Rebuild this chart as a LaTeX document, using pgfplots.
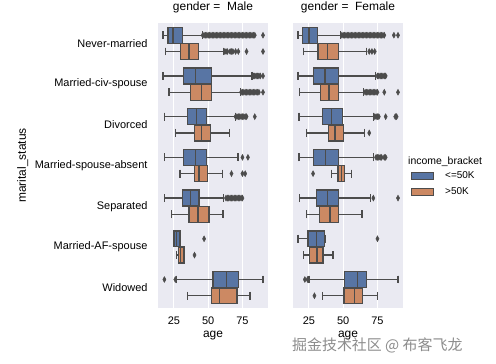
\documentclass[border=0pt]{standalone}
\usepackage{pgfplots}
\pgfplotsset{compat=1.18}
\usepgfplotslibrary{statistics}
\usepackage{fontspec}
\setmainfont{Liberation Sans}
\newfontfamily\cjk{Noto Sans CJK SC}
\definecolor{bgc}{HTML}{EAEAF2}
\definecolor{cblue}{HTML}{5875A4}
\definecolor{corange}{HTML}{CC8963}
\definecolor{edge}{HTML}{4C4C4C}

% pos, lower whisker, lower quartile, median, upper quartile, upper whisker, fill
\newcommand{\bx}[7]{%
\addplot[draw=edge, fill=#7, line width=1.3bp,
  boxplot/every whisker/.style={draw=edge, line width=1.3bp},
  boxplot/every median/.style={draw=edge, line width=1.3bp},
  boxplot/every box/.style={draw=edge, fill=#7, line width=1.3bp},
  boxplot prepared={draw position=#1, lower whisker=#2, lower quartile=#3,
  median=#4, upper quartile=#5, upper whisker=#6, box extend=0.39, whisker extend=0.196}]
  coordinates {};}

\pgfplotsset{
  facet/.style={
    scale only axis, width=110bp, height=285bp,
    anchor=south west,
    xmin=13.35, xmax=93.65, ymin=-0.5, ymax=6.5, y dir=reverse,
    axis background/.style={fill=bgc},
    axis line style={draw=none},
    major tick length=0pt,
    xtick={25,50,75}, ytick={0,...,6},
    xmajorgrids, ymajorgrids=false,
    grid style={white, line width=1bp},
    boxplot/draw direction=x,
    /pgf/number format/assume math mode=true,
    tick label style={font=\fontsize{11}{13}\selectfont},
    xticklabel style={yshift=-5bp},
    yticklabel style={xshift=-7bp},
    xlabel={age},
    xlabel style={font=\fontsize{12}{14}\selectfont, at={(axis description cs:0.5,-0.098)}, anchor=center},
    title style={font=\fontsize{12}{14}\selectfont, at={(axis description cs:0.5,1.035)}, anchor=center},
    fl/.style={only marks, mark=diamond*, mark size=2.9bp, mark options={xscale=0.72, draw=edge, fill=edge, line width=0.5bp}},
  }
}

\begin{document}
\begin{tikzpicture}
\useasboundingbox (0,0) rectangle (496bp,364bp);

% ---------------- Male ----------------
\begin{axis}[facet, at={(158bp,56bp)},
  title={gender =\ \ Male},
  yticklabels={Never-married,Married-civ-spouse,Divorced,Married-spouse-absent,Separated,Married-AF-spouse,Widowed},
  ylabel={marital\_status},
  ylabel style={font=\fontsize{12}{14}\selectfont, at={(axis description cs:-1.23,0.5)}, anchor=center, rotate=0},
]
% Never-married
\bx{-0.2}{17}{20.6}{24.3}{31.3}{45.6}{cblue}
\bx{0.2}{19}{30}{36}{43}{61.4}{corange}
% Married-civ-spouse
\bx{0.8}{17}{31.8}{40.8}{52.2}{82}{cblue}
\bx{1.2}{21.4}{37.1}{44.9}{52.2}{73.5}{corange}
% Divorced
\bx{1.8}{18.2}{34.7}{41.5}{48.8}{69.9}{cblue}
\bx{2.2}{26.2}{40}{45.1}{51.7}{65.8}{corange}
% Married-spouse-absent
\bx{2.8}{18.2}{31.8}{40.8}{48.8}{71.8}{cblue}
\bx{3.2}{29.4}{40}{43.2}{49.3}{60.2}{corange}
% Separated
\bx{3.8}{18.2}{31}{37.1}{43.2}{61.4}{cblue}
\bx{4.2}{23.3}{35.9}{42.5}{50.5}{60.9}{corange}
% Married-AF-spouse
\bx{4.8}{25}{25}{27}{29.4}{29.4}{cblue}
\bx{5.2}{27}{28.2}{30}{32.3}{32.3}{corange}
% Widowed
\bx{5.8}{27}{53.6}{63.3}{72.3}{90}{cblue}
\bx{6.2}{34.7}{52.2}{58}{71.1}{80.6}{corange}

\addplot[fl] coordinates {
 (46,-0.2) (47,-0.2) (48,-0.2) (49,-0.2) (50,-0.2) (51,-0.2) (52,-0.2) (53,-0.2) (54,-0.2) (55,-0.2)
 (56,-0.2) (57,-0.2) (58,-0.2) (59,-0.2) (60,-0.2) (61,-0.2) (62,-0.2) (63,-0.2) (64,-0.2) (65,-0.2)
 (66,-0.2) (67,-0.2) (68,-0.2) (69,-0.2) (70,-0.2) (71,-0.2) (72,-0.2) (73,-0.2) (74,-0.2) (75,-0.2)
 (76,-0.2) (77,-0.2) (78,-0.2) (79,-0.2) (80,-0.2) (81,-0.2) (82,-0.2) (83,-0.2) (84,-0.2) (90,-0.2)
 (62,0.2) (63,0.2) (64,0.2) (66,0.2) (67,0.2) (68,0.2) (70,0.2) (72,0.2) (78,0.2) (90,0.2)
 (83,0.8) (84,0.8) (85,0.8) (86,0.8) (87,0.8) (88,0.8) (90,0.8)
 (74,1.2) (75,1.2) (76,1.2) (77,1.2) (78,1.2) (79,1.2) (80,1.2) (81,1.2) (82,1.2) (83,1.2) (84,1.2) (85,1.2) (86,1.2) (87,1.2) (90,1.2)
 (70,1.8) (71,1.8) (72,1.8) (73,1.8) (74,1.8) (75,1.8) (76,1.8) (77,1.8) (78,1.8) (84,1.8)
 (75,2.8) (79,2.8)
 (67,3.2) (75,3.2) (77,3.2)
 (63,3.8) (64,3.8) (65,3.8) (66,3.8) (67,3.8) (68,3.8) (69,3.8) (70,3.8) (71,3.8) (72,3.8) (73,3.8) (74,3.8) (75,3.8)
 (47,4.8)
 (40,5.2)
 (18,5.8) (26,5.8)
};
\end{axis}

% ---------------- Female ----------------
\begin{axis}[facet, at={(293bp,56bp)},
  title={gender =\ \ Female},
  yticklabels={},
]
\bx{-0.2}{17}{20.1}{25}{31.1}{48}{cblue}
\bx{0.2}{20.9}{31.6}{38.3}{46.8}{67}{corange}
\bx{0.8}{17}{28.2}{36.6}{46.8}{73.5}{cblue}
\bx{1.2}{18.2}{33.5}{39.6}{46.8}{65}{corange}
\bx{1.8}{17.7}{34.7}{41.3}{49.3}{72.3}{cblue}
\bx{2.2}{23.3}{39.1}{43.9}{50}{65.5}{corange}
\bx{2.8}{17.7}{28.2}{37.1}{46.8}{72.3}{cblue}
\bx{3.2}{41.3}{46.1}{48.8}{51}{55.8}{corange}
\bx{3.8}{18.2}{30.6}{38.3}{46.8}{69.9}{cblue}
\bx{4.2}{23}{32.8}{40.3}{46.8}{63.8}{corange}
\bx{4.8}{17}{24.3}{30.4}{36.5}{37.2}{cblue}
\bx{5.2}{21.2}{25.5}{30.9}{35.2}{42.5}{corange}
\bx{5.8}{25}{51}{60.2}{67}{90}{cblue}
\bx{6.2}{34.7}{50.5}{58.2}{64}{75.2}{corange}

\addplot[fl] coordinates {
 (49,-0.2) (50,-0.2) (51,-0.2) (52,-0.2) (53,-0.2) (54,-0.2) (55,-0.2) (56,-0.2) (57,-0.2) (58,-0.2)
 (59,-0.2) (60,-0.2) (61,-0.2) (62,-0.2) (63,-0.2) (64,-0.2) (65,-0.2) (66,-0.2) (67,-0.2) (68,-0.2)
 (69,-0.2) (70,-0.2) (71,-0.2) (72,-0.2) (73,-0.2) (74,-0.2) (75,-0.2) (76,-0.2) (77,-0.2) (78,-0.2)
 (79,-0.2) (80,-0.2) (87,-0.2) (90,-0.2)
 (69,0.2) (71,0.2) (73,0.2)
 (75,0.8) (76,0.8) (77,0.8) (78,0.8) (79,0.8) (80,0.8) (81,0.8)
 (66,1.2) (67,1.2) (68,1.2) (69,1.2) (70,1.2) (71,1.2) (72,1.2) (73,1.2) (74,1.2) (75,1.2) (80,1.2) (90,1.2)
 (73,1.8) (74,1.8) (75,1.8) (76,1.8) (81,1.8) (88,1.8) (89,1.8)
 (69,2.2)
 (74,2.8) (75,2.8) (76,2.8) (77,2.8) (78,2.8) (80,2.8) (81,2.8)
 (28,3.2)
 (72,3.8) (90,3.8)
 (75,4.8)
 (22,5.8) (24,5.8)
 (29,6.2)
};
\end{axis}

% ---------------- Legend ----------------
\node[anchor=west, font=\fontsize{10.5}{12}\selectfont, inner sep=0pt] at (408bp,{364bp-161.5bp}) {income\_bracket};
\filldraw[fill=cblue, draw=edge, line width=0.8bp] (411bp,{364bp-172bp}) rectangle (433bp,{364bp-179.5bp});
\filldraw[fill=corange, draw=edge, line width=0.8bp] (411bp,{364bp-188bp}) rectangle (433bp,{364bp-195.5bp});
\node[anchor=west, font=\fontsize{10}{12}\selectfont, inner sep=0pt] at (445bp,{364bp-175.5bp}) {<=50K};
\node[anchor=west, font=\fontsize{10}{12}\selectfont, inner sep=0pt] at (445bp,{364bp-191.5bp}) {>50K};

% watermark
\node[anchor=west, inner sep=0pt, text=black!45, font=\cjk\fontsize{15}{17}\selectfont] at (292bp,{364bp-345bp}) {掘金技术社区 @ 布客飞龙};
\end{tikzpicture}
\end{document}
